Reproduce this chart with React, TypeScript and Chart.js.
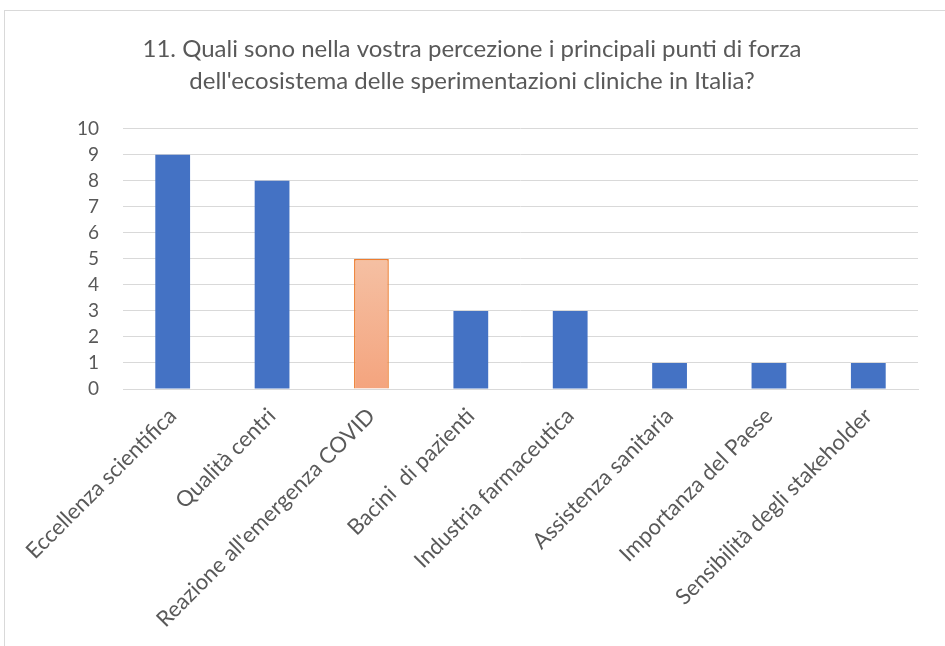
import React, { useEffect, useRef } from "react";
import { Chart, registerables } from "chart.js";

Chart.register(...registerables);

const titleLines = [
  "11. Quali sono nella vostra percezione i principali punti di forza",
  "dell'ecosistema delle sperimentazioni cliniche in Italia?",
];
const categories = [
  "Eccellenza scientifica",
  "Qualità centri",
  "Reazione all'emergenza COVID",
  "Bacini  di pazienti",
  "Industria farmaceutica",
  "Assistenza sanitaria",
  "Importanza del Paese",
  "Sensibilità degli stakeholder",
];
const values = [9, 8, 5, 3, 3, 1, 1, 1];
const highlightIndex = 2;
const yMin = 0;
const yMax = 10;
const yStep = 1;

const FONT = "Lato, 'Open Sans', sans-serif";

export default function App() {
  const ref = useRef<HTMLCanvasElement>(null);
  useEffect(() => {
    document.body.style.margin = "0";
    const canvas = ref.current!;
    const chart = new Chart(canvas, {
      type: "bar",
      data: {
        labels: categories,
        datasets: [
          {
            data: values,
            backgroundColor: (c: any) => {
              if (c.dataIndex !== highlightIndex) return "#4472C4";
              const ch = c.chart;
              const ys = ch.scales.y;
              if (!ys) return "#F4B183";
              const top = ys.getPixelForValue(values[highlightIndex]);
              const bot = ys.getPixelForValue(0);
              const g = ch.ctx.createLinearGradient(0, top, 0, bot);
              g.addColorStop(0, "#F5C0A3");
              g.addColorStop(1, "#F4A47E");
              return g;
            },
            borderColor: (c: any) => (c.dataIndex === highlightIndex ? "#ED7D31" : "#4472C4"),
            borderWidth: (c: any) => (c.dataIndex === highlightIndex ? 1.5 : 0),
            barPercentage: 0.35,
            categoryPercentage: 1,
          },
        ],
      },
      options: {
        responsive: false,
        animation: false,
        layout: { padding: { left: 26, right: 27, top: 0, bottom: 0 } },
        plugins: {
          legend: { display: false },
          tooltip: { enabled: false },
          title: {
            display: true,
            text: titleLines,
            color: "#595959",
            font: { family: FONT, size: 24, weight: "normal", lineHeight: 1.33 },
            padding: { top: 33, bottom: 32 },
          },
        },
        scales: {
          x: {
            grid: { display: false, drawTicks: false },
            border: { color: "#D9D9D9", width: 1 },
            ticks: {
              color: "#595959",
              font: { family: FONT, size: 22 },
              minRotation: 45,
              maxRotation: 45,
              autoSkip: false,
              padding: 14,
            },
            afterFit: (s: any) => {
              s.height = 257;
            },
          },
          y: {
            min: yMin,
            max: yMax,
            grid: { color: "#D9D9D9", drawTicks: false, lineWidth: 1 },
            border: { display: false },
            ticks: {
              stepSize: yStep,
              color: "#595959",
              font: { family: FONT, size: 19 },
              padding: 24,
            },
            afterFit: (s: any) => {
              s.width = 97;
            },
          },
        },
      },
    } as any);
    return () => chart.destroy();
  }, []);
  return (
    <div style={{ position: "fixed", left: 0, top: 0, width: 945, height: 646, overflow: "hidden", background: "#fff" }}>
      <div
        style={{
          position: "absolute",
          left: 4,
          top: 10,
          width: 1000,
          height: 1000,
          border: "1px solid #D9D9D9",
          boxSizing: "border-box",
        }}
      />
      <canvas ref={ref} width={945} height={646} style={{ position: "absolute", left: 0, top: 0 }} />
    </div>
  );
}
